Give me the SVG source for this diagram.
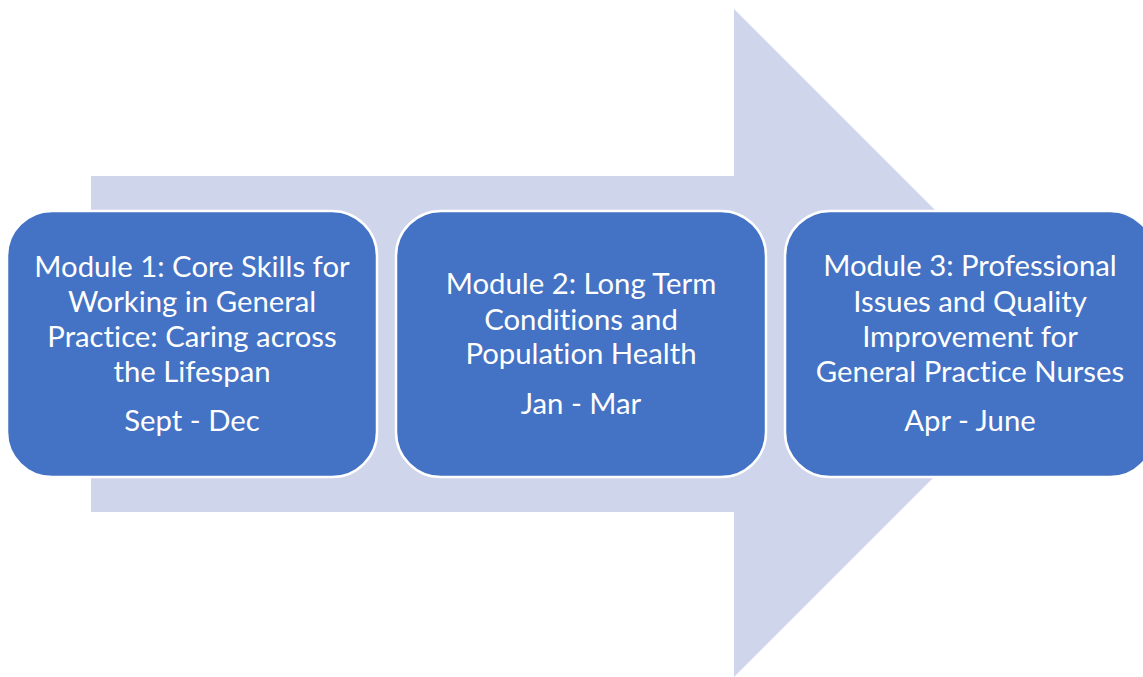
<svg xmlns="http://www.w3.org/2000/svg" width="1143" height="677" viewBox="0 0 1143 677">
<style>
.box{fill:#4472C4;stroke:#FFFFFF;stroke-width:2.5}
.t{font-family:Lato,"Open Sans",sans-serif;font-size:29.3px;fill:#FFFFFF;text-anchor:middle;font-variant-ligatures:none}
</style>
<rect width="1143" height="677" fill="#FFFFFF"/>
<g id="arrow">
<polygon points="91,176 734,176 734,9 1068,343 734,677 734,512 91,512" fill="#CFD5EA"/>
</g>
<g id="module1">
<rect class="box" x="7" y="211" width="370" height="266" rx="45" ry="45"/>
<text class="t" x="192" y="277">Module 1: Core Skills for</text>
<text class="t" x="192" y="312">Working in General</text>
<text class="t" x="192" y="347">Practice: Caring across</text>
<text class="t" x="192" y="382">the Lifespan</text>
<text class="t" x="192" y="431">Sept - Dec</text>
</g>
<g id="module2">
<rect class="box" x="396" y="211" width="370" height="266" rx="45" ry="45"/>
<text class="t" x="581" y="294">Module 2: Long Term</text>
<text class="t" x="581" y="330">Conditions and</text>
<text class="t" x="581" y="364">Population Health</text>
<text class="t" x="581" y="414">Jan - Mar</text>
</g>
<g id="module3">
<rect class="box" x="785" y="211" width="370" height="266" rx="45" ry="45"/>
<text class="t" x="970" y="276">Module 3: Professional</text>
<text class="t" x="970" y="312">Issues and Quality</text>
<text class="t" x="970" y="347">Improvement for</text>
<text class="t" x="970" y="382">General Practice Nurses</text>
<text class="t" x="970" y="431">Apr - June</text>
</g>
<g id="connectors"/>
</svg>
